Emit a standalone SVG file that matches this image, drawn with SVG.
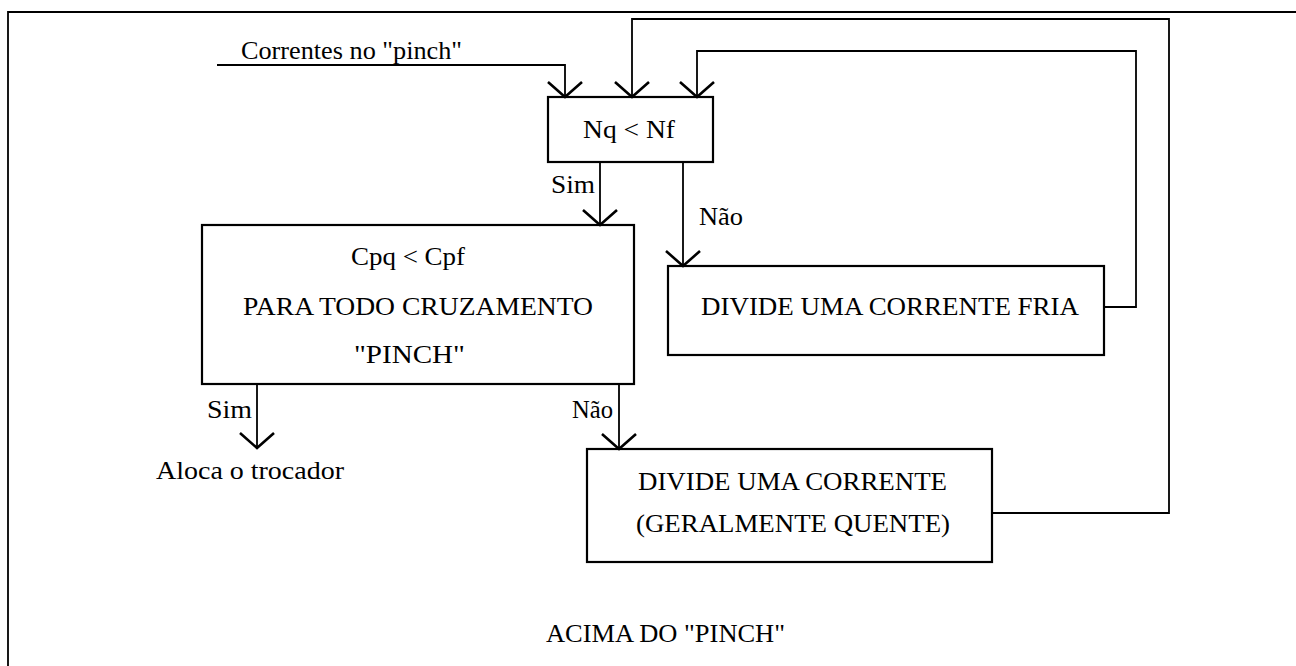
<svg xmlns="http://www.w3.org/2000/svg" width="1296" height="666" viewBox="0 0 1296 666">
<style>
.t{font-family:"Liberation Serif","Times New Roman",serif;font-size:25px;fill:#000}
.box{fill:none;stroke:#000;stroke-width:2.2}
.ln{fill:none;stroke:#000;stroke-width:1.8}
</style>
<defs>
<marker id="arr" markerUnits="userSpaceOnUse" orient="auto" markerWidth="40" markerHeight="40" refX="0" refY="0" overflow="visible">
<path d="M-15,-17 L0,0 L-15,17" fill="none" stroke="#000" stroke-width="2.6"/>
</marker>
</defs>
<rect width="1296" height="666" fill="#fff"/>
<g id="frame">
<path class="ln" d="M8,666 V12 H1296"/>
</g>
<g id="connectors">
<path class="ln" d="M217,65 H565 V97" marker-end="url(#arr)"/>
<path class="ln" d="M992,513 H1169 V19 H632 V97" marker-end="url(#arr)"/>
<path class="ln" d="M1104,307 H1136 V51 H697 V97" marker-end="url(#arr)"/>
<path class="ln" d="M600,162 V225" marker-end="url(#arr)"/>
<path class="ln" d="M683,162 V266" marker-end="url(#arr)"/>
<path class="ln" d="M257,384 V448" marker-end="url(#arr)"/>
<path class="ln" d="M619,384 V449" marker-end="url(#arr)"/>
<text class="t" x="241" y="59" textLength="221" lengthAdjust="spacingAndGlyphs">Correntes no "pinch"</text>
<text class="t" x="551" y="193" textLength="44" lengthAdjust="spacingAndGlyphs">Sim</text>
<text class="t" x="699" y="225" textLength="44" lengthAdjust="spacingAndGlyphs">Não</text>
<text class="t" x="207" y="418" textLength="45" lengthAdjust="spacingAndGlyphs">Sim</text>
<text class="t" x="572" y="418" textLength="41" lengthAdjust="spacingAndGlyphs">Não</text>
<text class="t" x="156" y="479" textLength="188" lengthAdjust="spacingAndGlyphs">Aloca o trocador</text>
</g>
<g id="n-nq">
<rect class="box" x="548" y="97" width="165" height="65"/>
<text class="t" x="583" y="138" textLength="92" lengthAdjust="spacingAndGlyphs">Nq &lt; Nf</text>
</g>
<g id="n-cpq">
<rect class="box" x="202" y="225" width="432" height="159"/>
<text class="t" x="351" y="265" textLength="114" lengthAdjust="spacingAndGlyphs">Cpq &lt; Cpf</text>
<text class="t" x="243" y="315" textLength="350" lengthAdjust="spacingAndGlyphs">PARA TODO CRUZAMENTO</text>
<text class="t" x="354" y="363" textLength="111" lengthAdjust="spacingAndGlyphs">"PINCH"</text>
</g>
<g id="n-fria">
<rect class="box" x="668" y="266" width="436" height="89"/>
<text class="t" x="701" y="315" textLength="378" lengthAdjust="spacingAndGlyphs">DIVIDE UMA CORRENTE FRIA</text>
</g>
<g id="n-quente">
<rect class="box" x="587" y="449" width="405" height="113"/>
<text class="t" x="638" y="490" textLength="309" lengthAdjust="spacingAndGlyphs">DIVIDE UMA CORRENTE</text>
<text class="t" x="636" y="532" textLength="314" lengthAdjust="spacingAndGlyphs">(GERALMENTE QUENTE)</text>
</g>
<g id="label">
<text class="t" x="546" y="642" textLength="239" lengthAdjust="spacingAndGlyphs">ACIMA DO "PINCH"</text>
</g>
</svg>
